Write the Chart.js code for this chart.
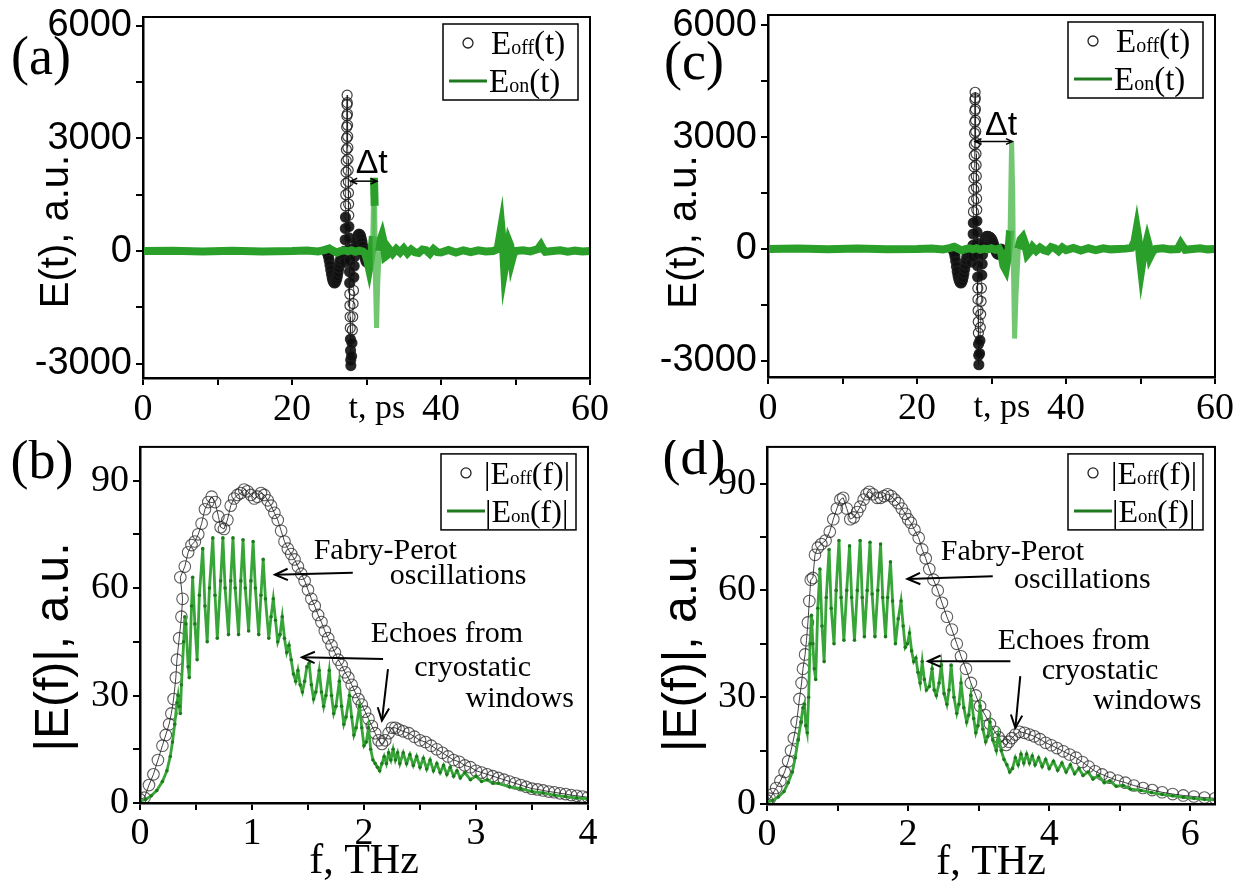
<!DOCTYPE html>
<html>
<head>
<meta charset="utf-8">
<script src="https://cdn.jsdelivr.net/npm/chart.js@4.4.1/dist/chart.umd.min.js"></script>
<style>
  body { margin: 0; background: #fff; }
  #fig { position: relative; width: 1245px; height: 889px; background: #fff; }
  #fig canvas { position: absolute; }
</style>
</head>
<body>
<div id="fig">
  <canvas id="pa" width="622" height="440" style="left:0;top:0"></canvas>
  <canvas id="pb" width="622" height="449" style="left:0;top:440px"></canvas>
  <canvas id="pc" width="623" height="440" style="left:622px;top:0"></canvas>
  <canvas id="pd" width="623" height="449" style="left:622px;top:440px"></canvas>
</div>
<script>
'use strict';

// ---- data: time domain, panel (a) ----
const tOffA = [24.6,24.7,24.8,24.9,25.0,25.1,25.2,25.3,25.4,25.5,25.6,25.7,25.8,25.9,26.0,26.1,26.2,26.3,26.4,26.5,26.6,26.7,26.8,26.9,27.0,
  27.10,27.12,27.14,27.16,27.18,27.20,27.22,27.24,27.26,27.28,27.30,27.32,27.34,27.36,27.38,27.40,
  27.42,27.44,27.46,27.48,27.50,27.52,27.54,27.56,27.58,27.60,27.62,27.64,27.66,27.68,27.70,27.72,27.74,27.76,27.78,27.80,27.82,27.84,27.86,27.88,27.90,
  28.00,28.05,28.10,28.15,28.20,28.25,28.30,28.35,28.40,
  28.5,28.6,28.7,28.8,28.9,29.0,29.1,29.2,29.3,29.4,29.5,29.6,29.7,29.8,29.9,30.0,30.1,30.2,30.3,30.4,30.5];
const eOffA = [0,-30,-80,-150,-250,-380,-500,-620,-720,-790,-830,-850,-840,-800,-740,-660,-560,-450,-340,-240,-150,-80,-30,-60,-200,
  -300,0,300,600,900,1200,1500,1800,2100,2400,2700,3000,3300,3600,3900,4150,
  3950,3650,3350,3050,2750,2450,2150,1850,1550,1250,950,650,350,50,-250,-550,-850,-1150,-1450,-1750,-2050,-2350,-2650,-2900,-3050,
  -2800,-2450,-2100,-1750,-1400,-1050,-700,-400,-150,
  50,180,300,380,430,450,440,400,330,240,130,20,-90,-180,-250,-290,-280,-220,-140,-60,0];
const tOnA = [0,4,8,12,16,20,22,23.5,24.5,25,25.5,26,26.5,27,27.5,28,28.5,29,29.5,29.8,30.1,30.35,30.6,30.85,
  31.0,31.1,31.2,31.35,31.5,31.7,31.9,32.1,32.3,32.5,32.7,33,33.5,34,34.5,35,35.5,36,36.5,37,37.5,38,38.5,39,39.5,40,
  41,42,43,44,45,46,47,47.6,47.9,48.1,48.3,48.5,48.7,48.9,49.1,49.3,49.5,49.7,50,51,52,53,53.4,53.7,54,55,56,57,58,59,60];
const eOnA = [0,10,-10,10,-10,0,15,-10,30,70,10,-40,0,20,-10,20,-20,10,-10,-60,-250,-480,-200,400,
  1950,1200,-800,-2050,-900,0,300,420,250,-150,-120,60,-70,50,-40,70,-60,40,-30,-50,40,20,-70,50,-30,-40,
  30,-40,20,-30,20,-10,0,50,400,640,200,-530,-300,0,250,150,-250,-100,0,20,-10,50,160,50,-20,0,20,-20,10,-10,0];

// ---- data: time domain, panel (c) ----
const tOffC = [24.8,24.9,25.0,25.1,25.2,25.3,25.4,25.5,25.6,25.7,25.8,25.9,26.0,26.1,26.2,26.3,26.4,26.5,26.6,26.7,26.8,26.9,27.0,27.1,27.2,27.3,
  27.50,27.52,27.54,27.56,27.58,27.60,27.62,27.64,27.66,27.68,27.70,27.72,27.74,27.76,27.78,27.80,
  27.82,27.84,27.86,27.88,27.90,27.92,27.94,27.96,27.98,28.00,28.02,28.04,28.06,28.08,28.10,28.12,28.14,28.16,28.18,28.20,28.22,28.24,28.26,28.28,28.30,
  28.40,28.45,28.50,28.55,28.60,28.65,28.70,28.75,28.80,
  28.9,29.0,29.1,29.2,29.3,29.4,29.5,29.6,29.7,29.8,29.9,30.0,30.1,30.2,30.3,30.4,30.5,30.6,30.7,30.8,30.9,31.0,31.1,31.2,31.3];
const eOffC = [0,-40,-100,-200,-330,-470,-600,-710,-800,-860,-900,-910,-890,-840,-760,-660,-540,-420,-300,-200,-120,-60,-30,-80,-200,-350,
  -200,100,400,700,1000,1300,1600,1900,2200,2500,2800,3100,3400,3700,4000,4200,
  4050,3750,3450,3150,2850,2550,2250,1950,1650,1350,1050,750,450,150,-150,-450,-750,-1050,-1350,-1650,-1950,-2250,-2550,-2850,-3100,
  -2800,-2450,-2100,-1750,-1400,-1050,-700,-400,-150,
  50,150,240,300,330,340,340,330,320,310,290,260,220,170,110,50,-10,-60,-100,-130,-140,-120,-80,-40,0];
const tOnC = [0,4,8,12,16,20,22,23.5,24.5,25,25.5,26,26.5,27,27.5,28,28.5,29,29.5,30,30.5,31,
  31.3,31.6,31.9,32.2,32.5,32.7,32.85,32.95,33.1,33.3,33.6,33.9,34.2,34.5,34.8,35.1,35.5,
  36,36.5,37,37.5,38,38.5,39,39.5,40,41,42,43,44,45,46,47,48,
  48.8,49.2,49.5,49.7,49.9,50.1,50.3,50.6,50.9,51.1,51.3,51.6,52,53,54,55,55.4,55.7,56,57,58,59,60];
const eOnC = [0,10,-10,10,-10,0,15,-10,30,60,10,-40,0,20,-10,20,-20,10,-10,20,-20,10,
  -100,-450,-560,-200,500,2880,1500,-600,-2400,-1200,0,250,320,150,-150,-80,60,
  -50,40,-30,-60,50,20,-60,40,-30,30,-40,20,-30,20,-10,0,10,
  30,200,550,300,-200,-560,-300,0,250,100,-200,-80,0,20,-10,0,150,60,-20,0,20,-10,0];

// ---- data: spectra, panel (b) ----
const fOffB = [0.00,0.04,0.08,0.12,0.16,0.20,0.23,0.26,0.28,0.30,0.32,0.33,0.35,0.37,0.38,0.36,0.40,0.43,0.46,0.49,
  0.52,0.55,0.58,0.61,0.64,0.67,0.70,0.72,0.75,0.78,0.81,0.84,0.87,0.90,0.93,0.96,0.99,1.02,1.05,1.08,
  1.11,1.14,1.17,1.20,1.23,1.26,1.29,1.32,1.35,1.38,1.41,1.44,1.47,1.50,1.53,1.56,1.59,1.62,1.65,1.68,
  1.71,1.74,1.77,1.80,1.83,1.86,1.89,1.92,1.95,1.98,2.01,2.04,2.07,2.10,2.13,2.16,2.19,2.22,2.25,2.28,
  2.31,2.35,2.40,2.45,2.50,2.55,2.60,2.65,2.70,2.75,2.80,2.85,2.90,2.95,3.00,3.05,3.10,3.15,3.20,3.25,
  3.30,3.35,3.40,3.45,3.50,3.55,3.60,3.65,3.70,3.75,3.80,3.85,3.90,3.95,4.00];
const eOffB = [1,1.5,5,8,12,16,19,22,25,29,35,40,46,52,57,63,66,70,72,73,
  75,78,82,84,85.5,84,80,77,76.5,79,83,85,86,86.5,87.5,87,86,85,85.5,86.5,
  86,84.5,83,81,79,76,73,71,69.5,68,66,64,62,59.5,57,55,52.5,50.5,48,46,
  44,42,40,38.5,36.5,35,33,31,29,27.5,25.5,23.5,21.5,19.5,17.5,16.5,17.5,19.5,21,21,
  20.5,20,19.5,18.5,17.5,17,16,15,14,13,12,11.5,10.5,10,9,8.5,8,7.5,7,6.5,
  6,5.5,5,4.5,4,3.8,3.5,3.2,3,2.7,2.5,2.2,2,1.8,1.6];
const fOnB = [0.00,0.05,0.10,0.15,0.20,0.24,0.27,0.29,0.31,0.33,0.34,0.35,0.36,0.37,0.39,0.40,0.41,0.43,0.44,0.46,
  0.47,0.49,0.51,0.53,0.56,0.58,0.60,0.62,0.65,0.67,0.69,0.72,0.74,0.76,0.79,0.81,0.83,0.85,0.88,0.90,
  0.92,0.94,0.97,0.99,1.01,1.03,1.06,1.08,1.10,1.12,1.15,1.17,1.19,1.21,1.23,1.25,1.27,1.29,1.31,1.33,
  1.35,1.37,1.39,1.41,1.43,1.45,1.47,1.49,1.51,1.53,1.55,1.57,1.60,1.62,1.64,1.66,1.69,1.71,1.73,1.75,
  1.78,1.80,1.82,1.84,1.87,1.89,1.91,1.93,1.96,1.98,2.00,2.02,2.04,2.06,2.08,2.10,2.12,2.14,2.16,2.18,
  2.20,2.22,2.24,2.26,2.28,2.30,2.32,2.35,2.38,2.41,2.44,2.47,2.50,2.53,2.56,2.59,2.62,2.65,2.68,2.71,
  2.74,2.77,2.80,2.83,2.86,2.90,2.95,3.00,3.05,3.10,3.15,3.20,3.30,3.40,3.50,3.60,3.70,3.80,3.90,4.00];
const eOnB = [0.5,1,2,3.5,6,9,13,17,22,28,30,27,25,33,45,52,50,38,35,55,
  63,50,40,58,71,55,45,60,74,58,46,62,74,60,47,62,74,60,47,62,
  73.5,60,48,62,73,60,47,58,68,57,46,52,57,51,45,47,52,46,42,44,
  40,36,34,37,33,31,34,38,39,33,29,31,37,31,27,30,37,30,25,27,
  34,27,22,24,30,24,19,21,27,21,16,17,21,15,12,11,10,9,11,13,
  11,14,12,15,12,14,11,14,11,13.5,10.5,13,10,12.5,9.5,12,9,11,8.5,10.5,
  8,10,7.5,9,7,8.5,6.5,7.5,6,6.5,5.5,5.5,4.5,4,3.2,2.8,2.2,1.8,1.4,1.2];

// ---- data: spectra, panel (d) ----
const fOffD = [0.00,0.04,0.08,0.13,0.19,0.25,0.30,0.34,0.38,0.42,0.46,0.49,0.51,0.54,0.56,0.58,0.60,0.62,0.65,0.68,
  0.72,0.77,0.83,0.89,0.94,0.99,1.04,1.08,1.13,1.18,1.23,1.28,1.32,1.37,1.41,1.45,1.50,1.56,1.61,1.66,
  1.71,1.76,1.81,1.86,1.91,1.96,2.00,2.04,2.09,2.15,2.20,2.25,2.30,2.36,2.42,2.48,2.55,2.62,2.69,2.75,
  2.82,2.89,2.96,3.02,3.09,3.16,3.23,3.28,3.33,3.39,3.43,3.47,3.52,3.58,3.65,3.72,3.79,3.87,3.95,4.03,
  4.11,4.20,4.29,4.38,4.47,4.56,4.65,4.75,4.86,4.97,5.08,5.20,5.33,5.46,5.60,5.75,5.90,6.05,6.20,6.35];
const eOffD = [1,1.5,2.8,4.5,6.5,9,12,15,18.5,23,29.5,34,38,42,46,51,57,63,63.5,70,
  72,73,74,76.5,80,83,85.5,86,83,80,80.5,82,83.5,85.5,87,87.7,87,86,86,86.5,
  87,86.5,85.5,84.5,83,81.5,80,79,77,74.8,71.5,69,66,63,60,56.5,52.6,49,45,41.5,
  38,34,30.5,27.5,25,22.5,20.3,18.8,17.5,16.6,17.5,18.5,19.5,20.3,20,19.5,19,18.2,17.2,16.5,
  15.7,14.8,13.9,13,11.8,10.5,9.2,8.3,7.4,6.6,6,5.2,4.5,3.9,3.3,2.8,2.4,2.1,1.8,1.6];
const fOnD = [0.00,0.08,0.16,0.24,0.30,0.36,0.40,0.44,0.48,0.51,0.53,0.55,0.57,0.59,0.61,0.63,0.65,0.67,0.69,0.72,
  0.75,0.78,0.81,0.84,0.88,0.91,0.95,0.98,1.02,1.05,1.09,1.13,1.17,1.20,1.24,1.28,1.32,1.35,1.38,1.42,
  1.46,1.49,1.53,1.57,1.61,1.64,1.68,1.71,1.75,1.78,1.82,1.86,1.90,1.93,1.96,1.99,2.02,2.05,2.08,2.11,
  2.14,2.17,2.20,2.23,2.26,2.30,2.34,2.37,2.40,2.44,2.47,2.51,2.55,2.58,2.61,2.65,2.69,2.72,2.75,2.79,
  2.83,2.86,2.89,2.93,2.96,2.99,3.02,3.06,3.10,3.13,3.16,3.20,3.25,3.28,3.32,3.36,3.40,3.44,3.48,3.52,
  3.56,3.60,3.64,3.68,3.72,3.76,3.80,3.85,3.90,3.95,4.00,4.06,4.12,4.18,4.24,4.30,4.36,4.42,4.48,4.55,
  4.62,4.70,4.78,4.86,4.95,5.05,5.15,5.30,5.45,5.60,5.75,5.90,6.05,6.20,6.35];
const eOnD = [0.5,1,2,3.5,6,9,13,18,23,27,28,22,20,30,45,53,45,38,35,55,
  66,50,40,58,71.5,55,45,60,74,58,46,60,72.5,58,46,60,74,58,47,60,
  73.5,59,47,60,73,58,47,58,68,57,45,52,57,50,44,45,48,43,40,41,
  37,34,40,35,32,33,38,32,30.5,34,39,31,28,32,39,30,25.5,28,34,27,
  23,25,30.5,24,20,22,27.5,21,17.5,19,23,18,15,19.4,15,12.5,11,9,10,13,
  11,14,11.5,14,11.5,13.5,11,13,10.5,12.5,10,12,9.5,11.5,9,11,8.5,10,8,9,
  7,8,6,6.5,5,5.2,4.2,3.8,3.2,2.7,2.3,1.9,1.6,1.3,1.2];

// ---- ticks: positions and labelled values ----
const timeMarks = [0, 10, 20, 30, 40, 50, 60];
const timeTicks = [0, 20, 40, 60];
const fieldMarks = [-3000, -1500, 0, 1500, 3000, 4500, 6000];
const fieldTicks = [-3000, 0, 3000, 6000];
const freqMarksB = [0, 0.5, 1, 1.5, 2, 2.5, 3, 3.5, 4];
const freqTicksB = [0, 1, 2, 3, 4];
const freqMarksD = [0, 1, 2, 3, 4, 5, 6];
const freqTicksD = [0, 2, 4, 6];
const ampMarks = [0, 15, 30, 45, 60, 75, 90];
const ampTicks = [0, 30, 60, 90];

const SERIF = '"Liberation Serif", "Times New Roman", serif';
const SANS = '"Liberation Sans", Arial, sans-serif';
const greenT = '#2a9f2a';
const greenSpike = 'rgba(80,185,80,0.8)';
const greenF = '#37a537';
const greenDark = '#1f7a1f';

function xy(xs, ys) {
  return xs.map((v, i) => ({ x: v, y: ys[i] }));
}

function textRun(ctx, x, y, parts) {
  ctx.textAlign = 'left';
  ctx.textBaseline = 'alphabetic';
  parts.forEach(function (p) {
    ctx.font = p.s + 'px ' + SERIF;
    ctx.fillText(p.t, x, y);
    x += ctx.measureText(p.t).width;
  });
}

function head(ctx, x, y, ang, len) {
  ctx.beginPath();
  ctx.moveTo(x + len * Math.cos(ang + Math.PI - 0.42), y + len * Math.sin(ang + Math.PI - 0.42));
  ctx.lineTo(x, y);
  ctx.lineTo(x + len * Math.cos(ang + Math.PI + 0.42), y + len * Math.sin(ang + Math.PI + 0.42));
  ctx.stroke();
}

// frame, titles, legend and annotations
const decor = {
  id: 'decor',
  afterDraw(chart, args, o) {
    const ctx = chart.ctx, a = chart.chartArea;
    const sx = chart.scales.x, sy = chart.scales.y;
    const X = v => sx.getPixelForValue(v), Y = v => sy.getPixelForValue(v);
    ctx.save();
    ctx.strokeStyle = '#000';
    ctx.lineWidth = 2;
    ctx.strokeRect(a.left, a.top, a.right - a.left, a.bottom - a.top);

    ctx.fillStyle = '#000';
    ctx.textAlign = 'center';
    ctx.textBaseline = 'middle';
    ctx.font = '54px ' + SERIF;
    ctx.fillText(o.letter, o.letterAt[0], o.letterAt[1]);

    // y title
    ctx.save();
    ctx.translate(a.left - o.yTitleDx, (a.top + a.bottom) / 2 + o.yTitleDy);
    ctx.rotate(-Math.PI / 2);
    ctx.font = o.yTitleSize + 'px ' + SANS;
    ctx.fillText(o.yTitle, 0, 0);
    ctx.restore();

    // x title
    ctx.font = o.xTitleSize + 'px ' + SERIF;
    if (o.xTitleInline) {
      ctx.fillText(o.xTitle, X(o.xTitleInline), a.bottom + o.xTitleDy);
    } else {
      ctx.fillText(o.xTitle, (a.left + a.right) / 2, a.bottom + o.xTitleDy);
    }

    // legend box
    const L = o.legend;
    const bx = a.right - 12 - 135, by = a.top + 7;
    ctx.lineWidth = 1.5;
    ctx.strokeRect(bx, by, 135, 76);
    ctx.beginPath();
    ctx.arc(bx + 25, by + 19, 5, 0, Math.PI * 2);
    ctx.lineWidth = 1.3;
    ctx.strokeStyle = '#222';
    ctx.stroke();
    textRun(ctx, bx + L.x1, by + 30, L.row1);
    ctx.beginPath();
    ctx.moveTo(bx + 6, by + 57);
    ctx.lineTo(bx + 44, by + 57);
    ctx.strokeStyle = greenDark;
    ctx.lineWidth = 3;
    ctx.stroke();
    textRun(ctx, bx + L.x2, by + 68, L.row2);

    // notes
    ctx.textAlign = 'center';
    ctx.textBaseline = 'middle';
    (o.notes || []).forEach(function (n) {
      ctx.font = n.s + 'px ' + (n.sans ? SANS : SERIF);
      ctx.fillText(n.t, X(n.x), Y(n.y));
    });

    // arrows
    ctx.strokeStyle = '#000';
    (o.arrows || []).forEach(function (r) {
      const x1 = X(r[0]), y1 = Y(r[1]), x2 = X(r[2]), y2 = Y(r[3]);
      ctx.lineWidth = r[5] ? 1.5 : 2;
      ctx.beginPath();
      ctx.moveTo(x1, y1);
      ctx.lineTo(x2, y2);
      ctx.stroke();
      const ang = Math.atan2(y2 - y1, x2 - x1);
      head(ctx, x2, y2, ang, r[4]);
      if (r[5]) head(ctx, x1, y1, ang + Math.PI, r[4]);
    });
    ctx.restore();
  }
};

function axis(s, dir, size) {
  return {
    type: 'linear',
    min: s.min,
    max: s.max,
    grid: { drawOnChartArea: false, drawTicks: true, tickLength: 7, color: '#000', lineWidth: 2 },
    border: { color: '#000', width: 2.5 },
    ticks: {
      autoSkip: false,
      maxRotation: 0,
      color: '#000',
      padding: s.pad,
      font: { family: s.family, size: s.size },
      callback: v => (s.labels.includes(v) ? String(v) : '')
    },
    afterBuildTicks(sc) {
      sc.ticks = s.marks.map(v => ({ value: v }));
    },
    afterFit(sc) {
      if (dir === 'x') {
        sc.height = size;
        sc.paddingLeft = 0;
        sc.paddingRight = 0;
      } else {
        sc.width = size;
        sc.paddingTop = 0;
        sc.paddingBottom = 0;
      }
    }
  };
}

function makeChart(id, p) {
  return new Chart(document.getElementById(id), {
    type: 'scatter',
    data: { datasets: p.datasets },
    options: {
      responsive: false,
      animation: false,
      devicePixelRatio: 1,
      layout: { padding: { left: 0, top: p.top, right: p.right, bottom: 0 } },
      plugins: { legend: { display: false }, tooltip: { enabled: false }, decor: p.decor },
      scales: { x: axis(p.x, 'x', p.xH), y: axis(p.y, 'y', p.yW) }
    },
    plugins: [decor]
  });
}

// steep parts of the pulse are drawn thinner and lighter, as in the figure
const steep = c => Math.abs(c.p1.y - c.p0.y) > 30;
// the dense clusters of reference markers print almost black
const dense = c => c.raw && (Math.abs(c.raw.y) < 950 || c.raw.y < -2300);

function timeSets(tOn, eOn, tOff, eOff) {
  return [
    { data: xy(tOn, eOn), showLine: true, borderColor: greenT, borderWidth: 8, pointRadius: 0, tension: 0,
      segment: {
        borderColor: c => (steep(c) ? greenSpike : undefined),
        borderWidth: c => (steep(c) ? 5 : undefined)
      } },
    { data: xy(tOff, eOff), showLine: true, borderColor: 'rgba(30,30,30,0.7)', borderWidth: 1, pointRadius: 5,
      pointBorderColor: 'rgba(30,30,30,0.85)', pointBorderWidth: 1.2,
      pointBackgroundColor: c => (dense(c) ? 'rgba(15,15,15,0.9)' : 'rgba(0,0,0,0)') }
  ];
}

function specSets(fOn, eOn, fOff, eOff) {
  return [
    { data: xy(fOn, eOn), showLine: true, borderColor: greenF, borderWidth: 2.8, pointRadius: 1.8,
      pointBackgroundColor: greenDark, pointBorderWidth: 0, tension: 0 },
    { data: xy(fOff, eOff), showLine: true, borderColor: 'rgba(20,20,20,0.8)', borderWidth: 1, pointRadius: 5.8,
      pointBorderColor: 'rgba(40,40,40,0.75)', pointBackgroundColor: 'rgba(0,0,0,0)', pointBorderWidth: 1.1 }
  ];
}

const legendT = {
  x1: 48, x2: 46,
  row1: [{ t: 'E', s: 33 }, { t: 'off', s: 20 }, { t: '(t)', s: 33 }],
  row2: [{ t: 'E', s: 33 }, { t: 'on', s: 20 }, { t: '(t)', s: 33 }]
};
const legendF = {
  x1: 43, x2: 44,
  row1: [{ t: '|E', s: 32 }, { t: 'off', s: 19 }, { t: '(f)|', s: 32 }],
  row2: [{ t: '|E', s: 32 }, { t: 'on', s: 19 }, { t: '(f)|', s: 32 }]
};

const xTime = { min: 0, max: 60, marks: timeMarks, labels: timeTicks, family: SERIF, size: 38, pad: 2 };

makeChart('pa', {
  datasets: timeSets(tOnA, eOnA, tOffA, eOffA),
  top: 17, right: 32, xH: 62, yW: 143,
  x: xTime,
  y: { min: -3380, max: 6230, marks: fieldMarks, labels: fieldTicks, family: SANS, size: 38, pad: 4 },
  decor: {
    letter: '(a)', letterAt: [41, 60],
    yTitle: 'E(t), a.u.', yTitleSize: 40, yTitleDx: 86, yTitleDy: 34,
    xTitle: 't, ps', xTitleSize: 34, xTitleDy: 31, xTitleInline: 31.4,
    legend: legendT,
    notes: [{ t: '\u0394t', x: 30.7, y: 2340, s: 34, sans: true }],
    arrows: [[27.9, 1860, 31.4, 1860, 7, true]]
  }
});

makeChart('pc', {
  datasets: timeSets(tOnC, eOnC, tOffC, eOffC),
  top: 15, right: 30, xH: 63, yW: 146,
  x: xTime,
  y: { min: -3430, max: 6270, marks: fieldMarks, labels: fieldTicks, family: SANS, size: 38, pad: 4 },
  decor: {
    letter: '(c)', letterAt: [72, 65],
    yTitle: 'E(t), a.u.', yTitleSize: 40, yTitleDx: 83, yTitleDy: 36,
    xTitle: 't, ps', xTitleSize: 34, xTitleDy: 31, xTitleInline: 31.4,
    legend: legendT,
    notes: [{ t: '\u0394t', x: 31.3, y: 3310, s: 34, sans: true }],
    arrows: [[27.8, 2880, 32.8, 2880, 7, true]]
  }
});

makeChart('pb', {
  datasets: specSets(fOnB, eOnB, fOffB, eOffB),
  top: 4, right: 34, xH: 86, yW: 140,
  x: { min: 0, max: 4, marks: freqMarksB, labels: freqTicksB, family: SERIF, size: 38, pad: 1 },
  y: { min: 0, max: 99.4, marks: ampMarks, labels: ampTicks, family: SERIF, size: 38, pad: 4 },
  decor: {
    letter: '(b)', letterAt: [42, 24],
    yTitle: '|E(f)|, a.u.', yTitleSize: 48, yTitleDx: 85, yTitleDy: 22,
    xTitle: 'f, THz', xTitleSize: 42, xTitleDy: 59,
    legend: legendF,
    notes: [
      { t: 'Fabry-Perot', x: 2.19, y: 70.4, s: 30 },
      { t: 'oscillations', x: 2.84, y: 63.4, s: 30 },
      { t: 'Echoes from', x: 2.74, y: 47.1, s: 30 },
      { t: 'cryostatic', x: 2.97, y: 37.7, s: 30 },
      { t: 'windows', x: 3.39, y: 29.1, s: 30 }
    ],
    arrows: [[1.90, 64.3, 1.205, 63.7, 14], [2.17, 40.2, 1.446, 40.7, 14], [2.214, 37.4, 2.16, 23, 14]]
  }
});

makeChart('pd', {
  datasets: specSets(fOnD, eOnD, fOffD, eOffD),
  top: 4, right: 30, xH: 85, yW: 145,
  x: { min: 0, max: 6.35, marks: freqMarksD, labels: freqTicksD, family: SERIF, size: 38, pad: 1 },
  y: { min: 0, max: 100.3, marks: ampMarks, labels: ampTicks, family: SERIF, size: 38, pad: 4 },
  decor: {
    letter: '(d)', letterAt: [72, 20],
    yTitle: '|E(f)|, a.u.', yTitleSize: 48, yTitleDx: 84, yTitleDy: 22,
    xTitle: 'f, THz', xTitleSize: 42, xTitleDy: 59,
    legend: legendF,
    notes: [
      { t: 'Fabry-Perot', x: 3.48, y: 70.8, s: 30 },
      { t: 'oscillations', x: 4.47, y: 63, s: 30 },
      { t: 'Echoes from', x: 4.35, y: 45.7, s: 30 },
      { t: 'cryostatic', x: 4.72, y: 37.3, s: 30 },
      { t: 'windows', x: 5.39, y: 29, s: 30 }
    ],
    arrows: [[3.2, 64, 1.99, 63.2, 14], [3.45, 40.1, 2.28, 40.1, 14], [3.59, 35.9, 3.52, 21.4, 14]]
  }
});
</script>
</body>
</html>
